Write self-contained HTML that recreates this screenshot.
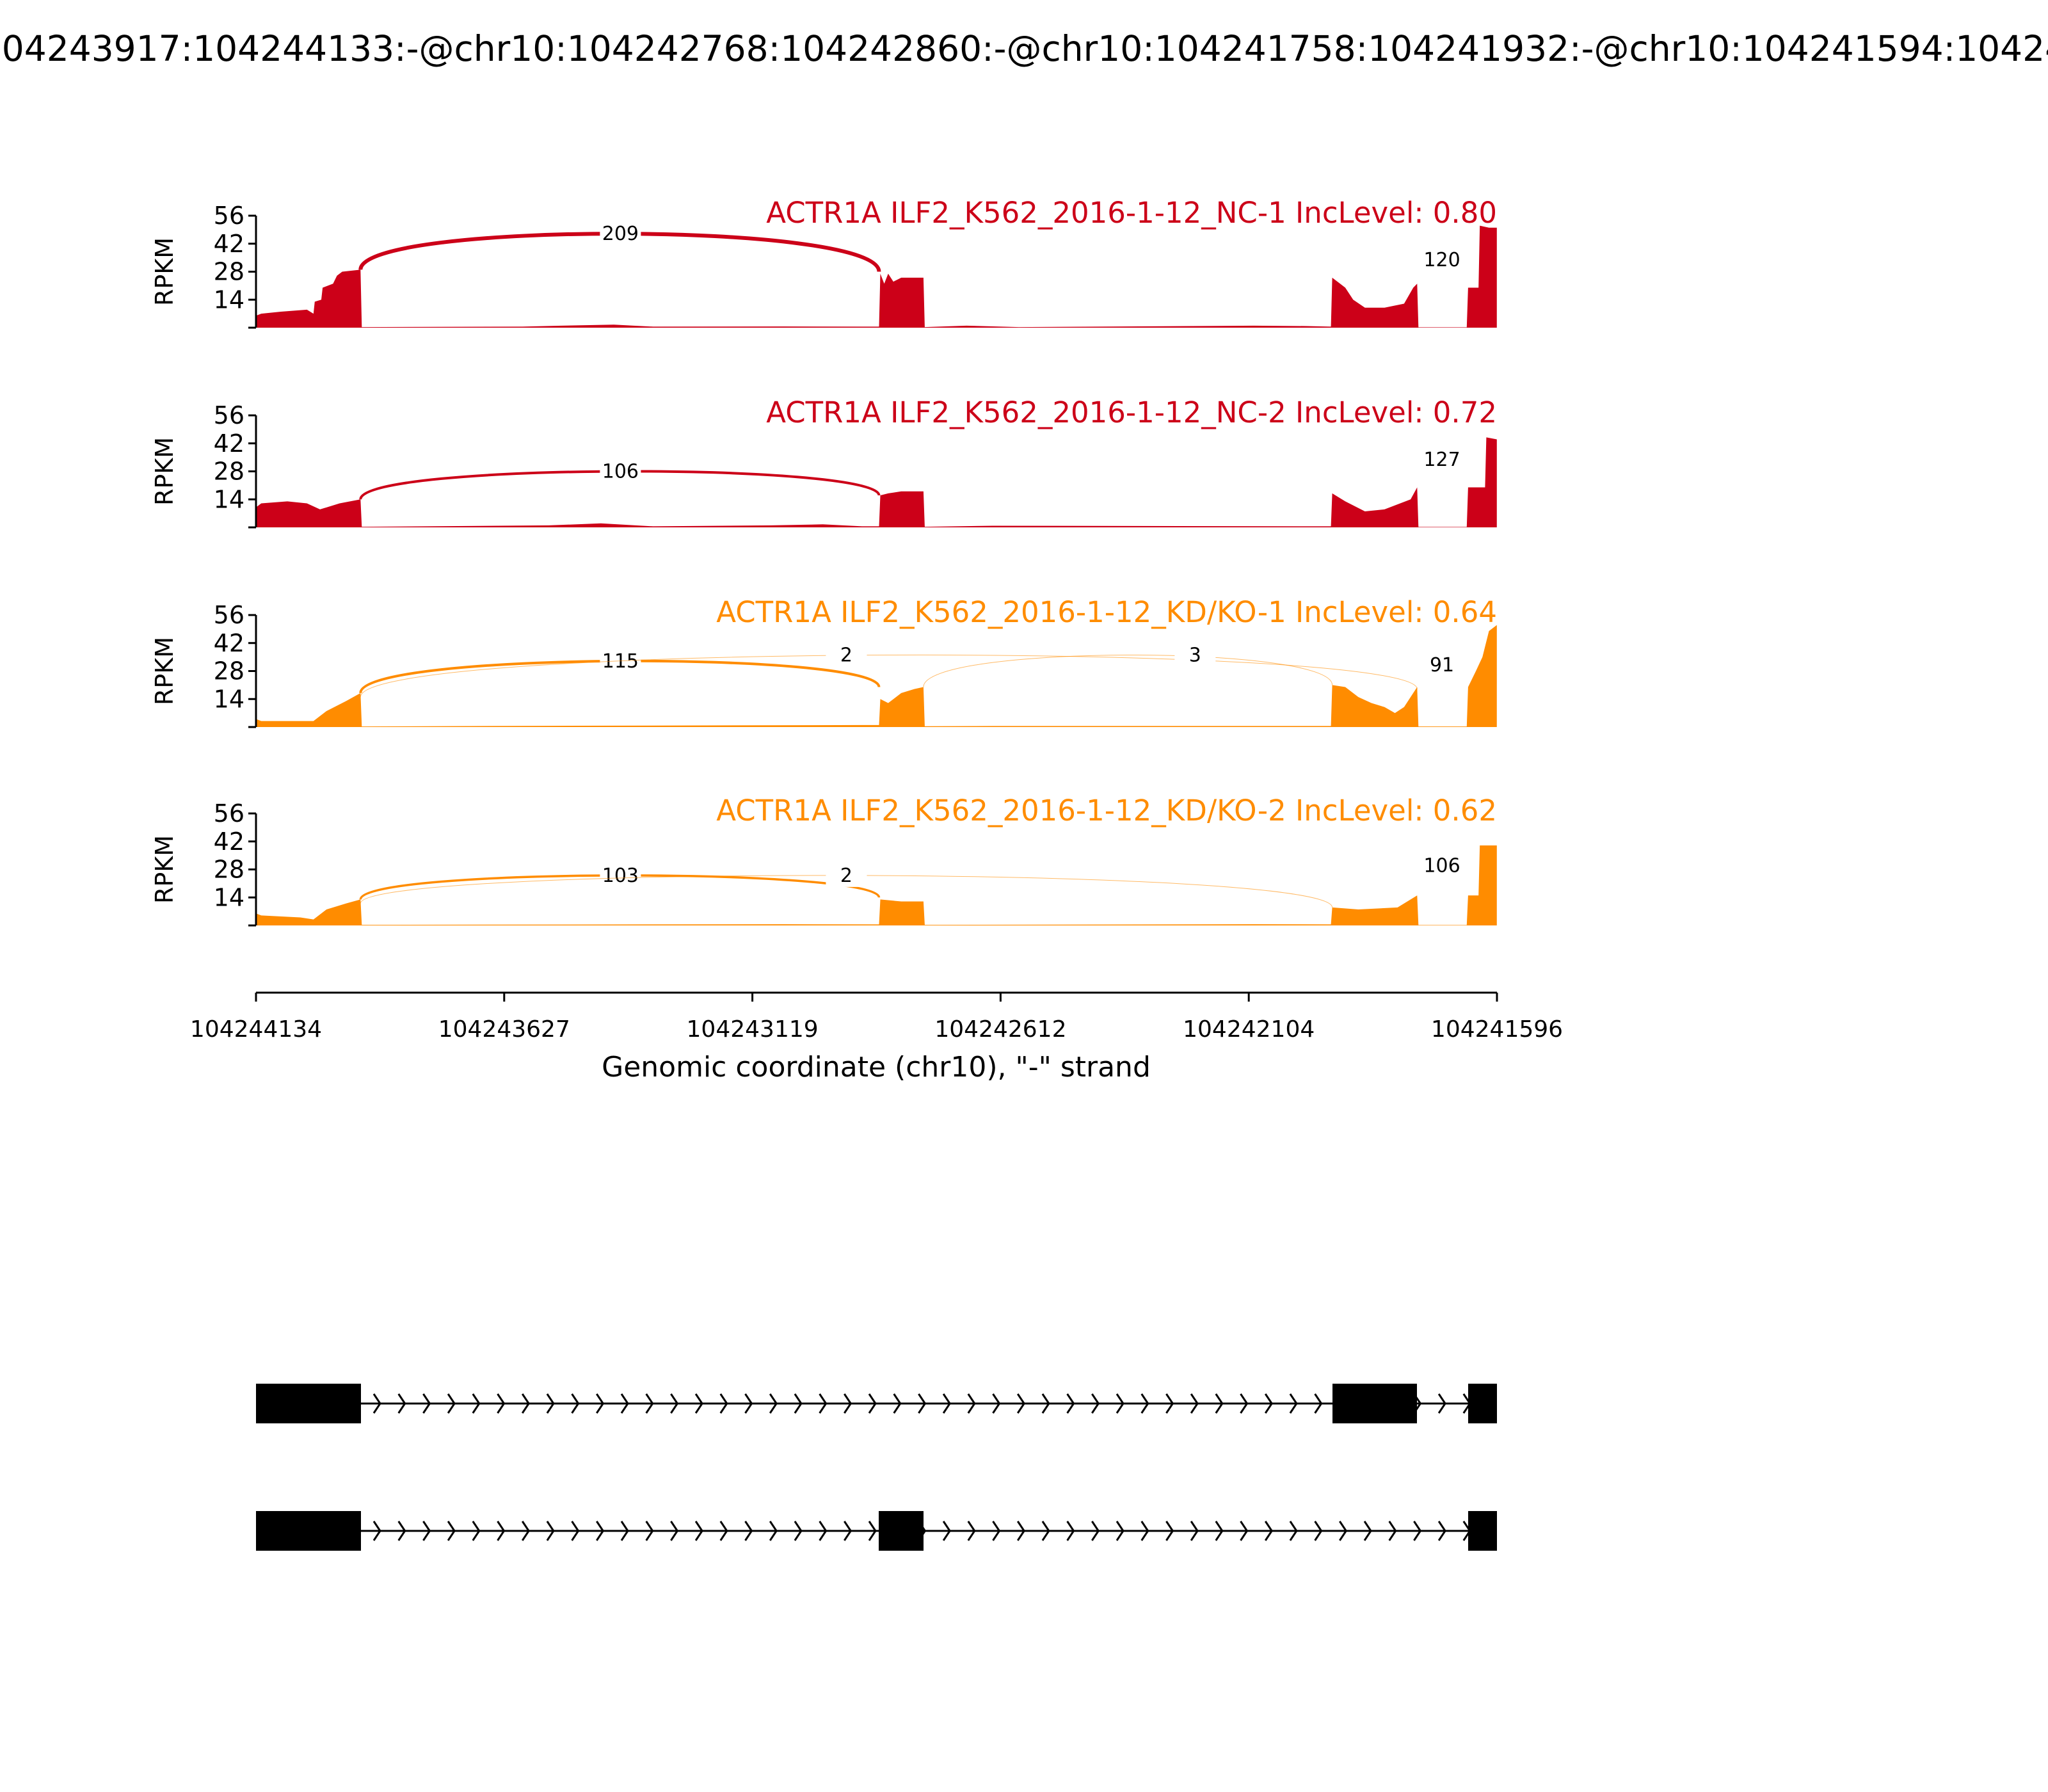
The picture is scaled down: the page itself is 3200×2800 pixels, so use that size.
<!DOCTYPE html>
<html><head><meta charset="utf-8"><style>
html,body{margin:0;padding:0;background:#fff;overflow:hidden;}
svg{display:block;font-family:"DejaVu Sans","Liberation Sans",sans-serif;}
</style></head><body>
<svg id="s" width="3200" height="2800" xmlns="http://www.w3.org/2000/svg">
<text x="1600" y="95" font-size="55" text-anchor="middle">chr10:104243917:104244133:-@chr10:104242768:104242860:-@chr10:104241758:104241932:-@chr10:104241594:104241595:-</text>
</svg>
<script>
const S=document.getElementById('s');const NS='http://www.w3.org/2000/svg';
function el(t,a,txt){const e=document.createElementNS(NS,t);for(const k in a)e.setAttribute(k,a[k]);if(txt!==undefined)e.textContent=txt;S.appendChild(e);return e;}
const K=3200/1568;
const X=d=>d*K;
const RED='#cc0018',OR='#ff8c00';
const panels=[
 {top:337,col:RED,title:'ACTR1A ILF2_K562_2016-1-12_NC-1 IncLevel: 0.80',
  cov:[[196,6],[200,7],[215,8],[235,9],[240,7],[241,13],[246,14],[247,20],[255,22],[258,26],[262,28],[276,29],[277,0.3],[400,0.5],[430,1],[470,1.5],[500,0.5],[600,0.6],[660,0.5],[673,0.5],[674,27],[677,22],[680,27],[684,23],[690,25],[707,25],[708,0.3],[740,1],[780,0.3],[960,1],[1000,0.8],[1019,0.5],[1020,25],[1026,22],[1030,20],[1036,14],[1045,10],[1060,10],[1075,12],[1082,20],[1085,22],[1086,0.2],[1123,0.2],[1124,20],[1132,20],[1133,51],[1140,50],[1146,50]],
  arcs:[[276,29,673,28,47,6,'209',475],[1085,22,1124,20,34,0,'120',1104]]},
 {top:649,col:RED,title:'ACTR1A ILF2_K562_2016-1-12_NC-2 IncLevel: 0.72',
  cov:[[196,10],[200,12],[220,13],[235,12],[245,9],[260,12],[276,14],[277,0.3],[420,1],[460,2],[500,0.5],[590,1],[630,1.5],[660,0.5],[673,0.5],[674,16],[680,17],[690,18],[707,18],[708,0.3],[760,0.8],[1019,0.5],[1020,17],[1030,13],[1045,8],[1060,9],[1080,14],[1085,20],[1086,0.2],[1123,0.2],[1124,20],[1137,20],[1138,45],[1146,44]],
  arcs:[[276,14,673,16,28,4,'106',475],[1085,20,1124,20,34,0,'127',1104]]},
 {top:961,col:OR,title:'ACTR1A ILF2_K562_2016-1-12_KD/KO-1 IncLevel: 0.64',
  cov:[[196,4],[200,3],[240,3],[250,8],[265,13],[276,17],[277,0.3],[420,0.6],[660,1],[673,1],[674,14],[680,12],[690,17],[700,19],[707,20],[708,0.4],[760,0.5],[1019,0.5],[1020,21],[1030,20],[1040,15],[1050,12],[1060,10],[1068,7],[1075,10],[1083,18],[1085,20],[1086,0.3],[1123,0.3],[1124,20],[1130,28],[1135,35],[1140,48],[1146,51]],
  arcs:[[276,17,673,20,33,4,'115',475],[276,15,1085,19,36,1,'2',648],[707,20,1020,21,36,1,'3',915],[1085,20,1124,20,31,0,'91',1104]]},
 {top:1271,col:OR,title:'ACTR1A ILF2_K562_2016-1-12_KD/KO-2 IncLevel: 0.62',
  cov:[[196,6],[200,5],[230,4],[240,3],[250,8],[265,11],[276,13],[277,0.3],[500,0.5],[600,0.6],[673,0.5],[674,13],[690,12],[707,12],[708,0.3],[960,0.6],[1019,0.5],[1020,9],[1040,8],[1070,9],[1085,15],[1086,0.2],[1123,0.2],[1124,15],[1132,15],[1133,40],[1146,40]],
  arcs:[[276,13,673,14,25,3.5,'103',475],[276,11,1020,9,25,1,'2',648],[1085,15,1124,15,30,0,'106',1104]]}
];
for(const p of panels){
 const top=p.top,bot=top+175,sc=175/56;
 const Y=v=>bot-v*sc;
 let d='M'+X(196)+','+bot;
 for(const [x,v] of p.cov)d+=' L'+X(x).toFixed(1)+','+Y(v).toFixed(1);
 d+=' L'+X(1146)+','+bot+' Z';
 el('path',{d:d,fill:p.col});
 for(const a of p.arcs){
  const [x1,v1,x2,v2,pk,w,lab,lx]=a;
  const y1=Y(v1),y2=Y(v2),yp=Y(pk);
  const yc=(yp-(y1+y2)/8)*4/3;
  if(w>0)el('path',{d:`M${X(x1)},${y1} C${X(x1)},${yc} ${X(x2)},${yc} ${X(x2)},${y2}`,fill:'none',stroke:p.col,'stroke-width':w,opacity:w<2?0.6:1});
  if(w>0)el('rect',{x:X(lx)-32,y:yp-20,width:64,height:38,fill:'#fff'});
  el('text',{x:X(lx),y:yp+10,'font-size':30,'text-anchor':'middle'},lab);
 }
 el('line',{x1:400,y1:top,x2:400,y2:bot,stroke:'#000','stroke-width':3});
 for(const v of [0,14,28,42,56]){
  el('line',{x1:388,y1:Y(v),x2:400,y2:Y(v),stroke:'#000','stroke-width':3});
  if(v>0)el('text',{x:382,y:Y(v)+13,'font-size':38,'text-anchor':'end'},v);
 }
 el('text',{x:0,y:0,'font-size':38,'text-anchor':'middle',transform:`translate(270,${(top+bot)/2}) rotate(-90)`},'RPKM');
 el('text',{x:2339,y:top+11,'font-size':45,'text-anchor':'end',fill:p.col},p.title);
}
el('line',{x1:400,y1:1551,x2:2339,y2:1551,stroke:'#000','stroke-width':3});
const tl=['104244134','104243627','104243119','104242612','104242104','104241596'];
tl.forEach((t,i)=>{const x=400+i*(1939/5);el('line',{x1:x,y1:1551,x2:x,y2:1565,stroke:'#000','stroke-width':3});el('text',{x:x,y:1620,'font-size':36,'text-anchor':'middle'},t);});
el('text',{x:1369,y:1682,'font-size':44,'text-anchor':'middle'},'Genomic coordinate (chr10), "-" strand');
function track(cy,exons){
 el('line',{x1:400,y1:cy,x2:2339,y2:cy,stroke:'#000','stroke-width':3});
 for(let x=594;x<2339;x+=38.7){el('path',{d:`M${x-10},${cy-15} L${x},${cy} L${x-10},${cy+15}`,fill:'none',stroke:'#000','stroke-width':3});}
 for(const [a,b] of exons)el('rect',{x:a,y:cy-31,width:b-a,height:62,fill:'#000'});
}
track(2193,[[400,564],[2082,2214],[2294,2339]]);
track(2392,[[400,564],[1373,1443],[2294,2339]]);
</script>
</body></html>
